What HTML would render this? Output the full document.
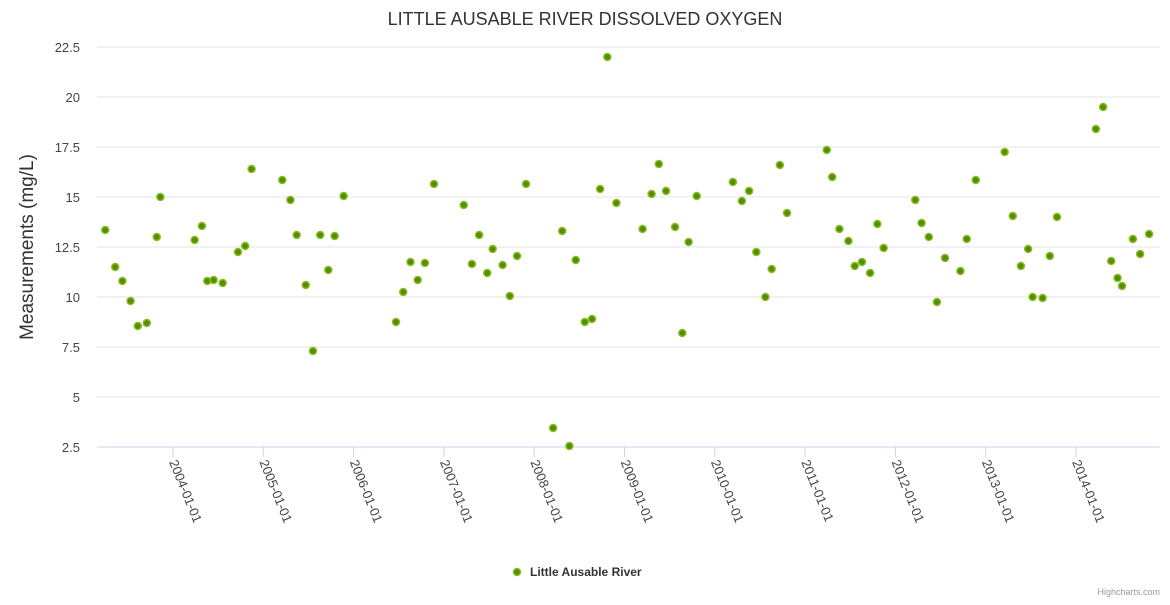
<!DOCTYPE html>
<html><head><meta charset="utf-8"><style>
html,body{margin:0;padding:0;background:#fff;}
svg text{font-family:"Liberation Sans",sans-serif;}
</style></head><body>
<svg id="chart" width="1170" height="600" xmlns="http://www.w3.org/2000/svg">
<text x="585" y="25" text-anchor="middle" font-size="18" fill="#333">LITTLE AUSABLE RIVER DISSOLVED OXYGEN</text>
<text transform="translate(33,247) rotate(-90)" text-anchor="middle" font-size="19" fill="#333">Measurements (mg/L)</text>
<g id="grid"></g><g id="xaxis"></g><g id="points"></g>
<g>
<circle cx="517" cy="572" r="3.5" fill="#4f8f00" stroke="#8bbc21" stroke-width="1.5"/>
<text x="530" y="576" font-size="12" font-weight="bold" fill="#333">Little Ausable River</text>
</g>
<text x="1160" y="595" text-anchor="end" font-size="9" fill="#999">Highcharts.com</text>
</svg>
<script>
const dates=[2003.25,2003.36,2003.44,2003.53,2003.61,2003.71,2003.82,2003.86,2004.24,2004.32,2004.38,2004.45,2004.55,2004.72,2004.80,2004.87,2005.21,2005.30,2005.37,2005.47,2005.55,2005.63,2005.72,2005.79,2005.89,2006.47,2006.55,2006.63,2006.71,2006.79,2006.89,2007.22,2007.31,2007.39,2007.48,2007.54,2007.65,2007.73,2007.81,2007.91,2008.21,2008.31,2008.39,2008.46,2008.56,2008.64,2008.73,2008.81,2008.91,2009.20,2009.30,2009.38,2009.46,2009.56,2009.64,2009.71,2009.80,2010.20,2010.30,2010.38,2010.46,2010.56,2010.63,2010.72,2010.80,2011.24,2011.30,2011.38,2011.48,2011.55,2011.63,2011.72,2011.80,2011.87,2012.22,2012.29,2012.37,2012.46,2012.55,2012.72,2012.79,2012.89,2013.21,2013.30,2013.39,2013.47,2013.52,2013.63,2013.71,2013.79,2014.22,2014.30,2014.39,2014.46,2014.51,2014.63,2014.71,2014.81];
const values=[13.35,11.5,10.8,9.8,8.55,8.7,13.0,15.0,12.85,13.55,10.8,10.85,10.7,12.25,12.55,16.4,15.85,14.85,13.1,10.6,7.3,13.1,11.35,13.05,15.05,8.75,10.25,11.75,10.85,11.7,15.65,14.6,11.65,13.1,11.2,12.4,11.6,10.05,12.05,15.65,3.45,13.3,2.55,11.85,8.75,8.9,15.4,22.0,14.7,13.4,15.15,16.65,15.3,13.5,8.2,12.75,15.05,15.75,14.8,15.3,12.25,10.0,11.4,16.6,14.2,17.35,16.0,13.4,12.8,11.55,11.75,11.2,13.65,12.45,14.85,13.7,13.0,9.75,11.95,11.3,12.9,15.85,17.25,14.05,11.55,12.4,10.0,9.95,12.05,14.0,18.4,19.5,11.8,10.95,10.55,12.9,12.15,13.15];
const yTicks=[2.5,5,7.5,10,12.5,15,17.5,20,22.5];
const yTickLabels=["2.5","5","7.5","10","12.5","15","17.5","20","22.5"];
const xTicks=[2004,2005,2006,2007,2008,2009,2010,2011,2012,2013,2014];
const xTickLabels=["2004-01-01","2005-01-01","2006-01-01","2007-01-01","2008-01-01","2009-01-01","2010-01-01","2011-01-01","2012-01-01","2013-01-01","2014-01-01"];
const NS="http://www.w3.org/2000/svg";
const yS=v=>447-(v-2.5)*20;
const xS=d=>173+(d-2004)*90.3;
function mk(t,a,p){const e=document.createElementNS(NS,t);for(const k in a)e.setAttribute(k,a[k]);p.appendChild(e);return e;}
const grid=document.getElementById('grid'),xa=document.getElementById('xaxis'),pts=document.getElementById('points');
yTicks.forEach((v,i)=>{
 const l=mk('line',{x1:97,x2:1160,y1:yS(v),y2:yS(v),stroke:i==0?'#ccd6eb':'#e6e6e6','stroke-width':1},grid);
 
 
 const t=mk('text',{x:80,y:yS(v)+5,'text-anchor':'end','font-size':13,fill:'#444'},grid);
 t.textContent=yTickLabels[i];
 
 
});
xTicks.forEach((d,i)=>{
 const x=xS(d);
 const l=mk('line',{x1:x,x2:x,y1:447,y2:457,stroke:'#ccd6eb'},xa);
 
 
 const t=mk('text',{transform:`translate(${x-4},${462}) rotate(68)`,'font-size':13,fill:'#444'},xa);
 t.textContent=xTickLabels[i];
 
 
});
dates.forEach((d,i)=>{
 const c=mk('circle',{cx:xS(d),cy:yS(values[i]),r:3.5,fill:'#4f8f00',stroke:'#8bbc21','stroke-width':1.5},pts);
 
 
});
</script>
</body></html>
